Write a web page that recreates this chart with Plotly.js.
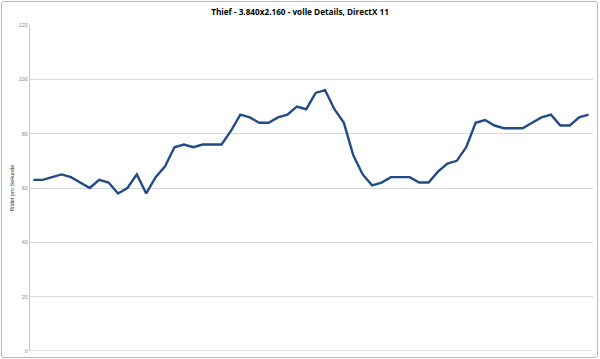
<!DOCTYPE html>
<html>
<head>
<meta charset="utf-8">
<script src="https://cdn.plot.ly/plotly-3.0.1.min.js"></script>
<style>
html,body{margin:0;padding:0;background:#fff;}
#wrap{position:relative;width:600px;height:359px;}
#chart{width:600px;height:359px;}
#frame{position:absolute;left:1px;top:1px;width:595px;height:355px;border:1px solid #b8b8b8;border-radius:3px;pointer-events:none;}
</style>
</head>
<body>
<div id="wrap"><div id="chart"></div><div id="frame"></div></div>
<script>
const titleText = "Thief - 3.840x2.160 - volle Details, DirectX 11";
const yAxisTitle = "Bilder pro Sekunde";
const yTickVals = [0, 20, 40, 60, 80, 100, 120];
const fps = [63,63,64,65,64,62,60,63,62,58,60,65,58,64,68,75,76,75,76,76,
             76,81,87,86,84,84,86,87,90,89,95,96,89,84,72,65,61,62,64,64,
             64,62,62,66,69,70,75,84,85,83,82,82,82,84,86,87,83,83,86,87];
const frameIndex = fps.map((v, i) => i);

Plotly.newPlot('chart', [{
  x: frameIndex,
  y: fps,
  type: 'scatter',
  mode: 'lines',
  line: {color: '#224c87', width: 2.4},
  hoverinfo: 'skip'
}], {
  width: 600, height: 359,
  margin: {l: 30, r: 7, t: 25, b: 8, pad: 0},
  paper_bgcolor: '#ffffff',
  plot_bgcolor: '#ffffff',
  showlegend: false,
  title: {text: titleText, x: 0.5, xanchor: 'center', y: 0.966, yanchor: 'middle',
          font: {family: 'Liberation Sans Narrow, Open Sans, sans-serif', size: 8.2, color: '#000000', weight: 'bold'}},
  xaxis: {range: [-0.35, 59.47], showticklabels: false, showgrid: false, zeroline: false,
          showline: false, ticks: ''},
  yaxis: {range: [0, 120], tickvals: yTickVals, ticktext: yTickVals.map(String),
          showgrid: true, gridcolor: '#d9d9d9', gridwidth: 1, zeroline: false,
          showline: true, linecolor: '#c8c8c8', linewidth: 1, ticks: '',
          tickfont: {family: 'Liberation Sans, sans-serif', size: 5.5, color: '#8c8c8c'},
          title: {text: yAxisTitle, standoff: 3,
                  font: {family: 'Liberation Sans, sans-serif', size: 5.5, color: '#404040'}}},
  shapes: [{type: 'line', xref: 'paper', yref: 'y', x0: 0, x1: 1, y0: 0, y1: 0,
            line: {color: '#c8c8c8', width: 1}}]
}, {displayModeBar: false, staticPlot: true});
</script>
</body>
</html>
